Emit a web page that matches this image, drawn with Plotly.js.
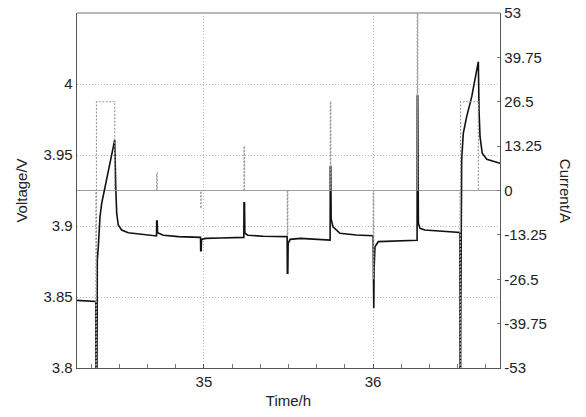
<!DOCTYPE html>
<html>
<head>
<meta charset="utf-8">
<script src="https://cdn.plot.ly/plotly-3.0.1.min.js"></script>
<style>
  html, body { margin: 0; padding: 0; background: #fff; }
  #chart { width: 586px; height: 417px; }
</style>
</head>
<body>
<div id="chart"></div>
<script>
// Cell voltage during the pulse test (time in hours, voltage in volts)
const voltTime = [
  34.25, 34.30, 34.361, 34.362, 34.365, 34.368, 34.370, 34.376, 34.386, 34.396,
  34.4155, 34.435, 34.455, 34.473, 34.479, 34.4846, 34.494, 34.504, 34.514, 34.553,
  34.652, 34.720, 34.721, 34.724, 34.726, 34.76, 34.85, 34.980, 34.981, 34.984,
  34.986, 35.01, 35.10, 35.236, 35.237, 35.240, 35.242, 35.26, 35.35, 35.492,
  35.493, 35.496, 35.498, 35.51, 35.57, 35.746, 35.747, 35.750, 35.752, 35.763,
  35.804, 35.90, 36.000, 36.001, 36.004, 36.006, 36.011, 36.031, 36.159, 36.260,
  36.261, 36.264, 36.2677, 36.277, 36.306, 36.455, 36.513, 36.514, 36.517, 36.5175,
  36.519, 36.5236, 36.533, 36.553, 36.583, 36.602, 36.622, 36.626, 36.632, 36.645,
  36.672, 36.75
];
const voltage = [
  3.8476, 3.8472, 3.8468, 3.76, 3.76, 3.80, 3.876, 3.8854, 3.9065, 3.916,
  3.9277, 3.9382, 3.9488, 3.9606, 3.9277, 3.909, 3.9007, 3.8985, 3.8972, 3.8953,
  3.8937, 3.893, 3.9035, 3.9035, 3.8953, 3.8935, 3.8925, 3.892, 3.8826, 3.8826,
  3.8906, 3.8913, 3.8915, 3.892, 3.9164, 3.9164, 3.8949, 3.8935, 3.8928, 3.8925,
  3.8667, 3.8667, 3.8878, 3.8906, 3.8913, 3.8901, 3.9418, 3.9418, 3.905, 3.8995,
  3.8949, 3.8937, 3.8932, 3.842, 3.842, 3.870, 3.8854, 3.889, 3.8897, 3.890,
  3.9915, 3.9915, 3.9019, 3.8984, 3.8972, 3.896, 3.8955, 3.76, 3.76, 3.82,
  3.9206, 3.9465, 3.9653, 3.977, 3.9911, 4.0028, 4.0157, 3.9817, 3.9629, 3.9512,
  3.947, 3.9442
];

// Applied current steps (A); each value holds until the next time stamp
const currTime = [
  34.25, 34.362, 34.365, 34.473, 34.721, 34.724, 34.981, 34.984, 35.237, 35.240,
  35.493, 35.496, 35.747, 35.750, 36.001, 36.004, 36.261, 36.264, 36.514, 36.517,
  36.622, 36.75
];
const current = [
  0, -53, 26.5, 0, 5.3, 0, -5.3, 0, 13.25, 0,
  -13.25, 0, 26.5, 0, -26.5, 0, 53, 0, -53, 26.5,
  0, 0
];

// Axis ticks
const voltTicks = [3.8, 3.85, 3.9, 3.95, 4];
const voltTickText = ['3.8', '3.85', '3.9', '3.95', '4'];
const currTicks = [-53, -39.75, -26.5, -13.25, 0, 13.25, 26.5, 39.75, 53];
const currTickText = ['-53', '-39.75', '-26.5', '-13.25', '0', '13.25', '26.5', '39.75', '53'];
const timeTicks = [35, 36];
const timeTickText = ['35', '36'];

const FONT = 'Liberation Sans, Arial, sans-serif';

const traces = [
  {
    x: currTime, y: current, yaxis: 'y2',
    type: 'scatter', mode: 'lines',
    line: { shape: 'hv', color: '#9a9a9a', width: 1.2, dash: '2px,1.5px' },
    hoverinfo: 'skip'
  },
  {
    x: voltTime, y: voltage,
    type: 'scatter', mode: 'lines',
    line: { color: '#111', width: 1.6 },
    hoverinfo: 'skip'
  }
];

const layout = {
  width: 586, height: 417,
  margin: { l: 77, r: 86, t: 13, b: 49 },
  paper_bgcolor: '#fff', plot_bgcolor: '#fff',
  showlegend: false,
  font: { family: FONT, size: 15, color: '#222' },
  xaxis: {
    range: [34.25, 36.75],
    tickmode: 'array', tickvals: timeTicks, ticktext: timeTickText,
    showgrid: true, gridcolor: '#b8b8b8', griddash: '1px,2px', gridwidth: 1,
    zeroline: false,
    showline: true, linecolor: '#555', linewidth: 1.3,
    ticks: 'inside', ticklen: 4, tickcolor: '#555',
    minor: { dtick: 0.1666667, tick0: 34, ticks: 'inside', ticklen: 4, tickcolor: '#777', showgrid: false },
    tickfont: { size: 15 },
    title: { text: 'Time/h', font: { size: 15 }, standoff: 6 }
  },
  yaxis: {
    range: [3.8, 4.05],
    tickmode: 'array', tickvals: voltTicks, ticktext: voltTickText,
    showgrid: true, gridcolor: '#b8b8b8', griddash: '1px,2px', gridwidth: 1,
    zeroline: false,
    showline: true, linecolor: '#555', linewidth: 1.3,
    ticks: '', tickfont: { size: 15 },
    title: { text: 'Voltage/V', font: { size: 15 }, standoff: 12 }
  },
  yaxis2: {
    overlaying: 'y', side: 'right',
    range: [-53, 53],
    tickmode: 'array', tickvals: currTicks, ticktext: currTickText,
    showgrid: false,
    zeroline: true, zerolinecolor: '#a0a0a0', zerolinewidth: 1.2,
    showline: true, linecolor: '#555', linewidth: 1.3,
    ticks: 'inside', ticklen: 3, tickcolor: '#777',
    tickfont: { size: 15 }
  },
  shapes: [
    { type: 'line', xref: 'paper', yref: 'paper', x0: 0, x1: 1, y0: 1, y1: 1,
      line: { color: '#a0a0a0', width: 1.3 } }
  ],
  annotations: [
    { text: 'Current/A', xref: 'paper', yref: 'paper', x: 1.18, y: 0.5,
      showarrow: false, textangle: 90, font: { size: 15, family: FONT, color: '#222' } }
  ]
};

Plotly.newPlot('chart', traces, layout, { staticPlot: true, displayModeBar: false });
</script>
</body>
</html>
